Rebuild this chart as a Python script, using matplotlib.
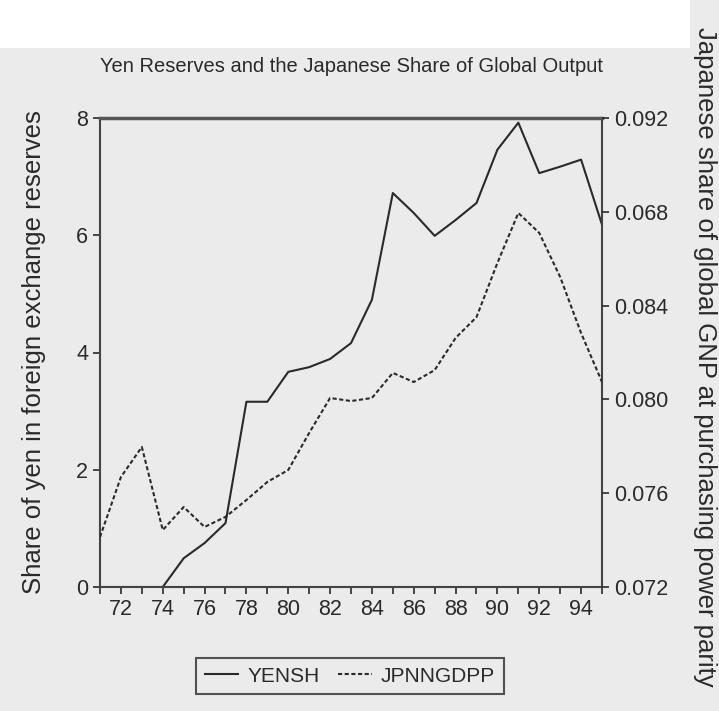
import matplotlib
matplotlib.use("Agg")
import matplotlib.pyplot as plt
from matplotlib.patches import Rectangle

years = list(range(1971, 1996))
yensh = [0, 0, 0, 0, 0.49, 0.75, 1.09, 3.16, 3.16, 3.67, 3.75, 3.89, 4.16, 4.9,
         6.72, 6.38, 5.99, 6.26, 6.55, 7.46, 7.92, 7.06, 7.17, 7.29, 6.18]
jpnngdpp = [0.07413, 0.07669, 0.07797, 0.07443, 0.07541, 0.07456, 0.07499, 0.07571,
            0.07648, 0.07699, 0.07857, 0.08006, 0.07993, 0.08006, 0.08113, 0.08074,
            0.08125, 0.08262, 0.08351, 0.08582, 0.08795, 0.08710, 0.08522, 0.08283, 0.08074]
xticks = list(range(1972, 1996, 2))
xticklabels = [str(y)[2:] for y in xticks]
left_ticks = [0, 2, 4, 6, 8]
right_ticks = [0.072, 0.076, 0.080, 0.084, 0.088, 0.092]
right_ticklabels = ["0.072", "0.076", "0.080", "0.084", "0.068", "0.092"]

plt.rcParams['font.family'] = ['Liberation Sans Narrow', 'Liberation Sans', 'DejaVu Sans']
ink = '#2a2a2a'

fig = plt.figure(figsize=(7.19, 7.11), dpi=100)
fig.patch.set_facecolor('#ebebeb')
fig.patches.append(Rectangle((0, 1 - 48 / 711), 690 / 719, 48 / 711, transform=fig.transFigure,
                             facecolor='white', edgecolor='none', zorder=0))

ax = fig.add_axes([100 / 719, 1 - 587 / 711, 502 / 719, 469 / 711])
ax.set_facecolor('#ebebeb')
l1, = ax.plot(years, yensh, color=ink, lw=1.5, label='YENSH')
ax.set_xlim(1971, 1995)
ax.set_ylim(0, 8)
ax.set_yticks(left_ticks)
ax.set_xticks(years, minor=True)
ax.set_xticks(xticks)
ax.set_xticklabels(xticklabels)
ax.tick_params(axis='both', which='both', direction='out', colors=ink, labelsize=15.5, width=1.2)
ax.tick_params(axis='x', which='both', length=5)
ax.tick_params(axis='y', length=5)
ax.set_ylabel('Share of yen in foreign exchange reserves', fontsize=18.5, color=ink, labelpad=22)
for s in ax.spines.values():
    s.set_color('#444444')
    s.set_linewidth(1.5)
ax.spines['top'].set_linewidth(2.5)
ax.spines['top'].set_color('#555555')

ax2 = ax.twinx()
l2, = ax2.plot(years, jpnngdpp, color=ink, lw=1.5, ls=(0, (2, 1.2)), label='JPNNGDPP')
ax2.set_ylim(0.072, 0.092)
ax2.set_yticks(right_ticks)
ax2.set_yticklabels(right_ticklabels)
ax2.tick_params(axis='y', direction='out', colors=ink, labelsize=15.5, length=5, width=1.2)
for s in ax2.spines.values():
    s.set_visible(False)

fig.text(351 / 719, 1 - 66 / 711, 'Yen Reserves and the Japanese Share of Global Output',
         ha='center', va='center', fontsize=14.5, color=ink)
fig.text(705 / 719, 1 - 357 / 711, 'Japanese share of global GNP at purchasing power parity',
         ha='center', va='center', rotation=270, fontsize=18.5, color=ink)

leg = fig.legend(handles=[l1, l2], loc='center', bbox_to_anchor=(350 / 719, 1 - 676 / 711),
                 ncol=2, frameon=True, fancybox=False, fontsize=15, handlelength=1.6,
                 handletextpad=0.45, columnspacing=0.9, borderpad=0.4, labelcolor=ink)
leg.get_frame().set_edgecolor(ink)
leg.get_frame().set_linewidth(1.5)
leg.get_frame().set_facecolor('#ebebeb')

fig.savefig('out.png', dpi=100, facecolor=fig.get_facecolor())
